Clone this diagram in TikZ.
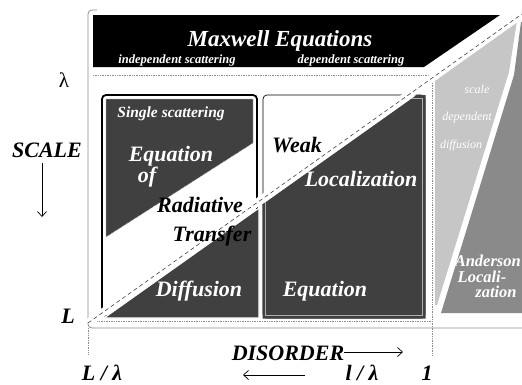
\documentclass[tikz,border=0pt]{standalone}
\usepackage{fontspec}
\setmainfont{Liberation Serif}
\usetikzlibrary{arrows.meta}
\definecolor{mxdark}{HTML}{404040}
\definecolor{mxlight}{HTML}{C6C6C6}
\definecolor{mxmid}{HTML}{8A8A8A}
\definecolor{mxline}{HTML}{8C8C8C}
\newcommand{\mxfs}[1]{\fontsize{#1}{#1}\selectfont}
\tikzset{
  big/.style={font=\mxfs{22}\bfseries\itshape, inner sep=0pt, anchor=base},
  bigw/.style={big, text=white},
  sml/.style={font=\mxfs{12.5}\bfseries\itshape, text=white, inner sep=0pt, anchor=base},
  faint/.style={font=\mxfs{12}\itshape, text=white, inner sep=0pt, anchor=base},
  dotl/.style={draw=mxline, densely dotted, line width=0.7pt},
  barb/.style={-{Straight Barb[length=5pt,width=9pt]}, line width=0.7pt},
}
\begin{document}
\begin{tikzpicture}[x=1pt,y=-1pt]
  \useasboundingbox (0,0) rectangle (522,384);
  % frame and guides
  \draw[mxline, line width=0.8pt, rounded corners=4pt] (97,10) -- (88,10) -- (88,328) -- (530,328);
  \draw[dotl] (93,75) -- (432,75) -- (432,355);
  \draw[dotl] (88,328) -- (88,355);
  \draw[dotl] (92,321) -- (432,321);
  % Maxwell banner
  \fill[black] (93,15) -- (500,15) -- (424,67) -- (93,67) -- cycle;
  % right side regions
  \fill[mxlight] (435,79) -- (517,21) -- (509,72) -- (437,305) -- (435,305) -- cycle;
  \fill[mxmid] (441,313) -- (514,75) -- (521,22) -- (522,22) -- (522,313) -- cycle;
  % right box
  \draw[line width=0.7pt, rounded corners=4pt] (263,318) rectangle (425,95);
  \fill[mxdark] (262.5,204.4) -- (416.7,95) -- (425.5,95) -- (425.5,318.5) -- (262.5,318.5) -- cycle;
  \begin{scope}
    \clip (262.5,204.4) -- (416.7,95) -- (425.5,95) -- (425.5,318.5) -- (262.5,318.5) -- cycle;
    \draw[mxline!70, line width=0.7pt] (265.5,98) rectangle (422.5,315.5);
  \end{scope}
  % left box
  \draw[line width=1.8pt, rounded corners=4pt] (102,95) rectangle (257,316);
  \filldraw[fill=mxdark, draw=mxline!60, densely dotted, line width=0.6pt] (106,99) -- (253,99) -- (253,143) -- (106,237) -- cycle;
  \filldraw[fill=mxdark, draw=white, line width=1.2pt] (104,318) -- (259,318) -- (259,208) -- cycle;
  % diagonal
  \draw[white, line width=8pt] (88,323) -- (522,14);
  \draw[mxdark, line width=0.6pt, dash pattern=on 4pt off 3pt] (88,323) -- (522,14);
  % banner text
  \node[font=\mxfs{23}\bfseries\itshape, text=white, inner sep=0pt, anchor=base] (maxw) at (280,46) {Maxwell Equations};
  \node[sml] (indep) at (177,63) {independent scattering};
  \node[sml] (dep) at (351,63) {dependent scattering};
  % axes
  \node[font=\mxfs{21}, inner sep=0pt, anchor=base] (lam) at (64,87) {λ};
  \node[big] (scale) at (47,157) {SCALE};
  \coordinate (scaletop) at (42,163);
  \coordinate (scaleend) at (42,217);
  \draw[barb] (scaletop) -- (scaleend);
  \node[big] (ell) at (68,323) {L};
  \node[big] (disorder) at (288,360) {DISORDER};
  \coordinate (disend) at (403,352);
  \draw[barb] (disorder.east |- disend) -- (disend);
  \node[big] (llam) at (102,380) {L / λ};
  \node[big] (slam) at (362,380) {l / λ};
  \coordinate (backend) at (243,375);
  \coordinate (backstart) at (305,375);
  \draw[barb] (backstart) -- (backend);
  \node[big] (one) at (427,380) {1};
  % left box text
  \node[font=\mxfs{15.5}\bfseries\itshape, text=white, inner sep=0pt, anchor=base] (single) at (171,117) {Single scattering};
  \node[bigw] (eq1) at (171,161) {Equation};
  \node[bigw] (of) at (147,182) {of};
  \node[big] (rad) at (200,212) {Radiative};
  \node[big] (trans) at (212,241) {Transfer};
  \node[bigw] (diff) at (199,296) {Diffusion};
  % right box text
  \node[big] (weak) at (297,152) {Weak};
  \node[bigw] (loc) at (361,186) {Localization};
  \node[bigw] (eq2) at (325,296) {Equation};
  % right side text
  \node[faint] (sc) at (477,93) {scale};
  \node[faint] (dp) at (467,120) {dependent};
  \node[faint] (df) at (461,148) {diffusion};
  \node[font=\mxfs{16.5}\bfseries\itshape, text=white, inner sep=0pt, anchor=base east] (and) at (521,266) {Anderson};
  \node[font=\mxfs{16.5}\bfseries\itshape, text=white, inner sep=0pt, anchor=base] (loca) at (482,282) {Locali-};
  \node[font=\mxfs{16.5}\bfseries\itshape, text=white, inner sep=0pt, anchor=base] (zat) at (496,297) {zation};
\end{tikzpicture}
\end{document}
